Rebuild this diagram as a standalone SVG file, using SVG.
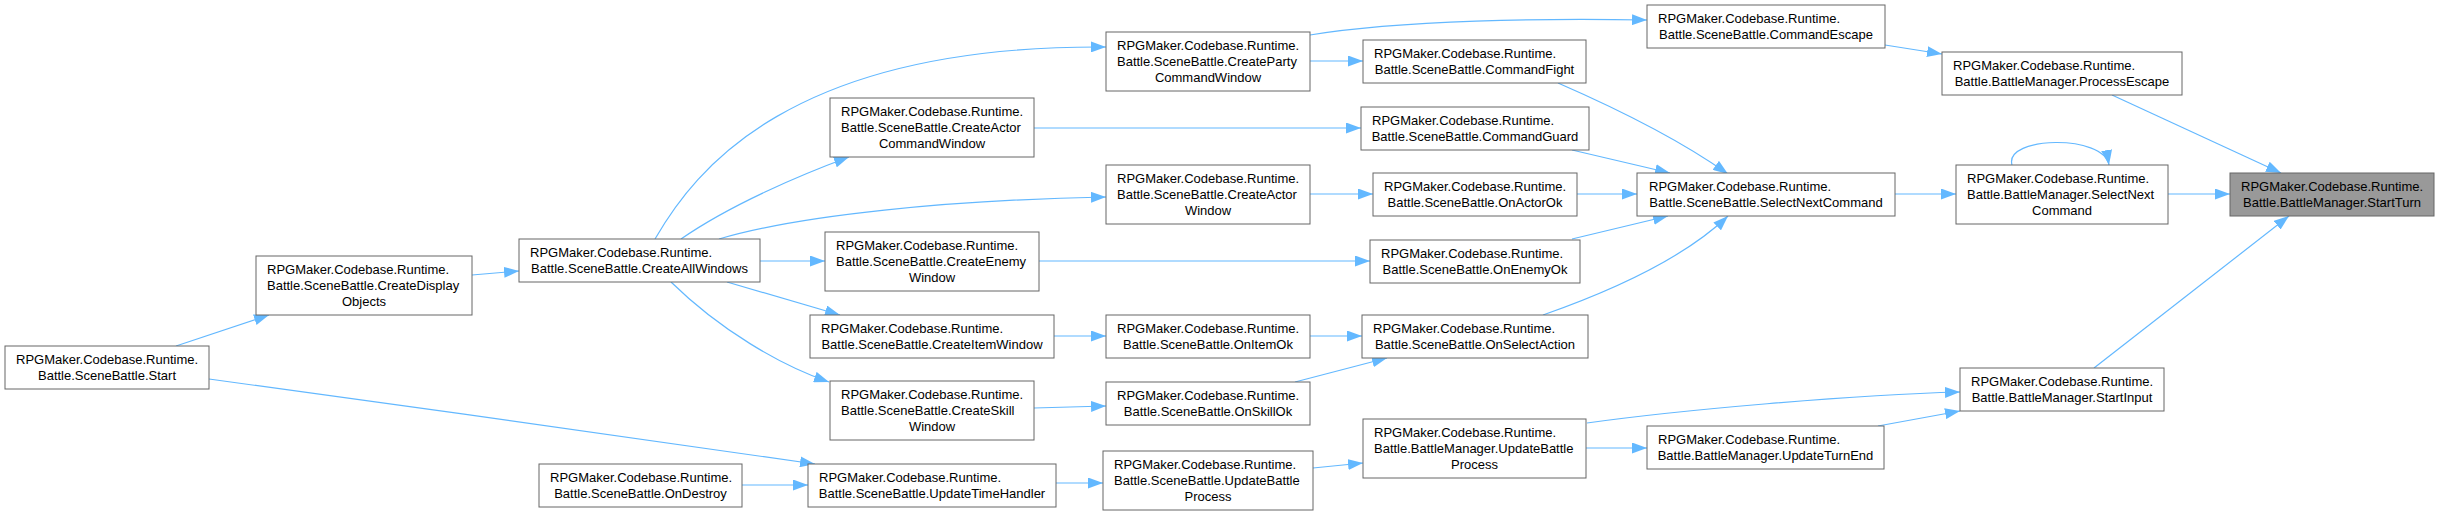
<svg xmlns="http://www.w3.org/2000/svg" width="2439" height="516" viewBox="0 0 2439 516">
<style>
.n rect{fill:#ffffff;stroke:#666666;stroke-width:1}
.hl rect{fill:#999999;stroke:#666666;stroke-width:1}
text{font-family:"Liberation Sans",Arial,sans-serif;font-size:13px;fill:#000000}
.c{text-anchor:middle}
#edges path{fill:none;stroke:#63b8ff;stroke-width:1.2;marker-end:url(#ah)}
</style>
<defs>
<marker id="ah" markerUnits="userSpaceOnUse" markerWidth="15" markerHeight="11" refX="15" refY="5.5" orient="auto">
<path d="M0,0 L15,5.5 L0,11 z" fill="#63b8ff"/>
</marker>
</defs>
<rect width="2439" height="516" fill="#ffffff"/>
<g id="edges">
<path d="M2168,194 L2230,194"/>
<path d="M2112,95 L2281,173"/>
<path d="M2094,368 L2289,216"/>
<path d="M2012,165 C2004,136 2104,134 2109,165"/>
<path d="M1895,194 L1956,194"/>
<path d="M1885,45 L1942,54"/>
<path d="M1587,423 C1680,410 1850,395 1960,392"/>
<path d="M1878,426 L1960,411"/>
<path d="M1586,448 L1647,448"/>
<path d="M1310,35 C1400,20 1550,18 1647,20"/>
<path d="M1310,61 L1363,61"/>
<path d="M1034,128 L1361,128"/>
<path d="M1310,194 L1373,194"/>
<path d="M1039,261 L1370,261"/>
<path d="M1558,83 C1620,110 1680,140 1728,174"/>
<path d="M1572,150 L1670,173"/>
<path d="M1577,194 L1637,194"/>
<path d="M1572,239 L1668,216"/>
<path d="M1543,315 C1600,295 1680,262 1728,216"/>
<path d="M1310,336 L1362,336"/>
<path d="M1295,382 L1387,358"/>
<path d="M1054,336 L1106,336"/>
<path d="M1034,408 L1106,406"/>
<path d="M1313,468 L1363,463"/>
<path d="M1056,483 L1103,483"/>
<path d="M742,485 L808,485"/>
<path d="M209,379 C400,405 650,440 815,464"/>
<path d="M176,346 L269,315"/>
<path d="M472,275 L519,271"/>
<path d="M655,239 C695,170 790,45 1106,47"/>
<path d="M681,239 C730,205 800,175 849,157"/>
<path d="M719,239 C800,215 950,200 1106,197"/>
<path d="M760,261 L825,261"/>
<path d="M727,282 L840,315"/>
<path d="M671,282 C720,330 780,365 829,382"/>
</g>
<g id="n1" class="hl"><rect x="2230" y="173" width="204" height="43"/><text x="2241" y="191">RPGMaker.Codebase.Runtime.</text><text class="c" x="2332" y="207">Battle.BattleManager.StartTurn</text></g>
<g id="n2" class="n"><rect x="1956" y="165" width="212" height="59"/><text x="1967" y="183">RPGMaker.Codebase.Runtime.</text><text x="1967" y="199">Battle.BattleManager.SelectNext</text><text class="c" x="2062" y="215">Command</text></g>
<g id="n3" class="n"><rect x="1942" y="52" width="240" height="43"/><text x="1953" y="70">RPGMaker.Codebase.Runtime.</text><text class="c" x="2062" y="86">Battle.BattleManager.ProcessEscape</text></g>
<g id="n4" class="n"><rect x="1960" y="368" width="204" height="43"/><text x="1971" y="386">RPGMaker.Codebase.Runtime.</text><text class="c" x="2062" y="402">Battle.BattleManager.StartInput</text></g>
<g id="n5" class="n"><rect x="1647" y="5" width="238" height="43"/><text x="1658" y="23">RPGMaker.Codebase.Runtime.</text><text class="c" x="1766" y="39">Battle.SceneBattle.CommandEscape</text></g>
<g id="n6" class="n"><rect x="1637" y="173" width="258" height="43"/><text x="1649" y="191">RPGMaker.Codebase.Runtime.</text><text class="c" x="1766" y="207">Battle.SceneBattle.SelectNextCommand</text></g>
<g id="n7" class="n"><rect x="1363" y="40" width="223" height="43"/><text x="1374" y="58">RPGMaker.Codebase.Runtime.</text><text class="c" x="1474.5" y="74">Battle.SceneBattle.CommandFight</text></g>
<g id="n8" class="n"><rect x="1361" y="107" width="228" height="43"/><text x="1372" y="125">RPGMaker.Codebase.Runtime.</text><text class="c" x="1475" y="141">Battle.SceneBattle.CommandGuard</text></g>
<g id="n9" class="n"><rect x="1373" y="173" width="204" height="43"/><text x="1384" y="191">RPGMaker.Codebase.Runtime.</text><text class="c" x="1475" y="207">Battle.SceneBattle.OnActorOk</text></g>
<g id="n10" class="n"><rect x="1370" y="240" width="210" height="43"/><text x="1381" y="258">RPGMaker.Codebase.Runtime.</text><text class="c" x="1475" y="274">Battle.SceneBattle.OnEnemyOk</text></g>
<g id="n11" class="n"><rect x="1362" y="315" width="226" height="43"/><text x="1373" y="333">RPGMaker.Codebase.Runtime.</text><text class="c" x="1475" y="349">Battle.SceneBattle.OnSelectAction</text></g>
<g id="n12" class="n"><rect x="1106" y="315" width="204" height="43"/><text x="1117" y="333">RPGMaker.Codebase.Runtime.</text><text class="c" x="1208" y="349">Battle.SceneBattle.OnItemOk</text></g>
<g id="n13" class="n"><rect x="1106" y="382" width="204" height="43"/><text x="1117" y="400">RPGMaker.Codebase.Runtime.</text><text class="c" x="1208" y="416">Battle.SceneBattle.OnSkillOk</text></g>
<g id="n14" class="n"><rect x="1106" y="32" width="204" height="59"/><text x="1117" y="50">RPGMaker.Codebase.Runtime.</text><text x="1117" y="66">Battle.SceneBattle.CreateParty</text><text class="c" x="1208" y="82">CommandWindow</text></g>
<g id="n15" class="n"><rect x="830" y="98" width="204" height="59"/><text x="841" y="116">RPGMaker.Codebase.Runtime.</text><text x="841" y="132">Battle.SceneBattle.CreateActor</text><text class="c" x="932" y="148">CommandWindow</text></g>
<g id="n16" class="n"><rect x="1106" y="165" width="204" height="59"/><text x="1117" y="183">RPGMaker.Codebase.Runtime.</text><text x="1117" y="199">Battle.SceneBattle.CreateActor</text><text class="c" x="1208" y="215">Window</text></g>
<g id="n17" class="n"><rect x="519" y="239" width="241" height="43"/><text x="530" y="257">RPGMaker.Codebase.Runtime.</text><text class="c" x="639.5" y="273">Battle.SceneBattle.CreateAllWindows</text></g>
<g id="n18" class="n"><rect x="825" y="232" width="214" height="59"/><text x="836" y="250">RPGMaker.Codebase.Runtime.</text><text x="836" y="266">Battle.SceneBattle.CreateEnemy</text><text class="c" x="932" y="282">Window</text></g>
<g id="n19" class="n"><rect x="810" y="315" width="244" height="43"/><text x="821" y="333">RPGMaker.Codebase.Runtime.</text><text class="c" x="932" y="349">Battle.SceneBattle.CreateItemWindow</text></g>
<g id="n20" class="n"><rect x="830" y="381" width="204" height="59"/><text x="841" y="399">RPGMaker.Codebase.Runtime.</text><text x="841" y="415">Battle.SceneBattle.CreateSkill</text><text class="c" x="932" y="431">Window</text></g>
<g id="n21" class="n"><rect x="256" y="256" width="216" height="59"/><text x="267" y="274">RPGMaker.Codebase.Runtime.</text><text x="267" y="290">Battle.SceneBattle.CreateDisplay</text><text class="c" x="364" y="306">Objects</text></g>
<g id="n22" class="n"><rect x="5" y="346" width="204" height="43"/><text x="16" y="364">RPGMaker.Codebase.Runtime.</text><text class="c" x="107" y="380">Battle.SceneBattle.Start</text></g>
<g id="n23" class="n"><rect x="539" y="464" width="203" height="43"/><text x="550" y="482">RPGMaker.Codebase.Runtime.</text><text class="c" x="640.5" y="498">Battle.SceneBattle.OnDestroy</text></g>
<g id="n24" class="n"><rect x="808" y="464" width="248" height="43"/><text x="819" y="482">RPGMaker.Codebase.Runtime.</text><text class="c" x="932" y="498">Battle.SceneBattle.UpdateTimeHandler</text></g>
<g id="n25" class="n"><rect x="1103" y="451" width="210" height="59"/><text x="1114" y="469">RPGMaker.Codebase.Runtime.</text><text x="1114" y="485">Battle.SceneBattle.UpdateBattle</text><text class="c" x="1208" y="501">Process</text></g>
<g id="n26" class="n"><rect x="1363" y="419" width="223" height="59"/><text x="1374" y="437">RPGMaker.Codebase.Runtime.</text><text x="1374" y="453">Battle.BattleManager.UpdateBattle</text><text class="c" x="1474.5" y="469">Process</text></g>
<g id="n27" class="n"><rect x="1647" y="426" width="237" height="43"/><text x="1658" y="444">RPGMaker.Codebase.Runtime.</text><text class="c" x="1765.5" y="460">Battle.BattleManager.UpdateTurnEnd</text></g>
</svg>
